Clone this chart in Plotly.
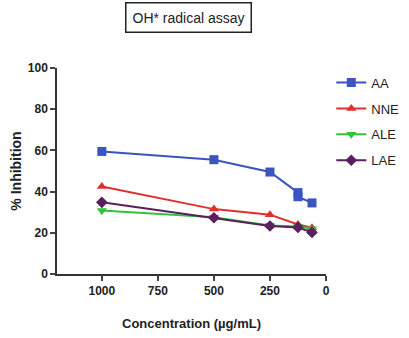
import plotly.graph_objects as go

conc = [1000, 500, 250, 125, 62.5]
conc_aa = [1000, 500, 250, 125, 125, 62.5]
aa = [59.5, 55.5, 49.5, 39.5, 37.5, 34.5]
nne = [42.5, 31.5, 28.8, 24.0, 22.5]
ale = [30.8, 27.5, 23.5, 23.0, 22.0]
lae = [34.8, 27.3, 23.3, 22.6, 20.2]
x_ticks = [1000, 750, 500, 250, 0]
y_ticks = [0, 20, 40, 60, 80, 100]

series = [
    ("AA", conc_aa, aa, "#3a55c0", "square"),
    ("NNE", conc, nne, "#e0302e", "triangle-up"),
    ("ALE", conc, ale, "#33c23a", "triangle-down"),
    ("LAE", conc, lae, "#5c1f5e", "diamond"),
]

fig = go.Figure()
for i, (name, xs, ys, col, sym) in enumerate(series):
    fig.add_trace(go.Scatter(
        x=xs, y=ys, name=name, mode="lines+markers",
        line=dict(color=col, width=2),
        marker=dict(symbol=sym, size=9, color=col),
        legendgroup=name,
    ))

font = "Liberation Sans, Arial, sans-serif"
fig.update_layout(
    width=409, height=338,
    margin=dict(l=57, r=83, t=68, b=64, autoexpand=False),
    paper_bgcolor="white", plot_bgcolor="white",
    font=dict(family=font, color="#222", size=11),
    showlegend=True,
    legend=dict(xref="container", yref="container", x=0.81, y=0.80,
                xanchor="left", yanchor="top",
                font=dict(size=13, family=font, color="#222"),
                tracegroupgap=6, itemwidth=30, bgcolor="rgba(0,0,0,0)"),
    xaxis=dict(range=[1200, 0], tickvals=x_ticks, ticks="outside", ticklen=5,
               tickwidth=1.5, showline=True, linecolor="#333", linewidth=1.5,
               showgrid=False, zeroline=False,
               tickfont=dict(size=12, family=font, weight="bold"),
               title=dict(text="<b>Concentration (µg/mL)</b>", standoff=22,
                          font=dict(size=13, family=font))),
    yaxis=dict(range=[0, 100], tickvals=y_ticks, ticks="outside", ticklen=5,
               tickwidth=1.5, showline=True, linecolor="#333", linewidth=1.5,
               showgrid=False, zeroline=False,
               tickfont=dict(size=12, family=font, weight="bold"),
               title=dict(text="<b>% Inhibition</b>", standoff=3,
                          font=dict(size=14, family=font))),
    annotations=[dict(text="OH* radical assay", x=0.487, y=1.243,
                      xref="paper", yref="paper", showarrow=False,
                      xanchor="center", yanchor="middle",
                      font=dict(size=14, family=font, color="#222"),
                      bordercolor="#222", borderwidth=1.5, borderpad=6,
                      bgcolor="white")],
)

fig.write_html("out.html")
